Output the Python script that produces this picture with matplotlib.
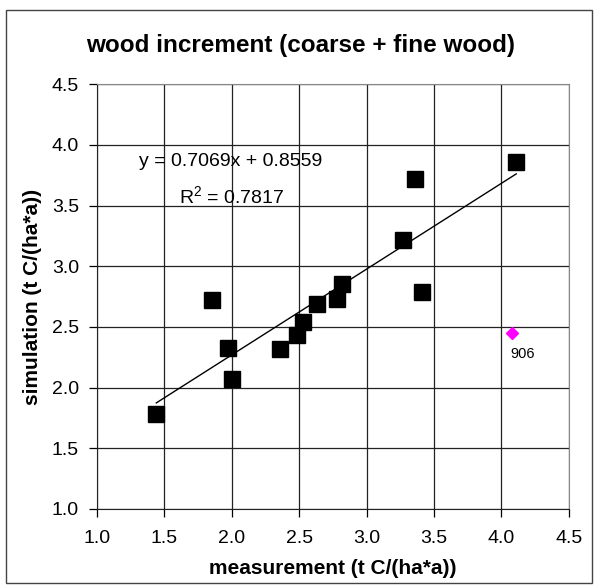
import numpy as np
import matplotlib.pyplot as plt
from matplotlib.patches import Rectangle

plt.rcParams['font.family'] = ['Liberation Sans', 'DejaVu Sans']

# measured vs simulated wood increment
meas = [1.44, 1.85, 1.97, 2.00, 2.36, 2.48, 2.53, 2.63, 2.78, 2.82, 3.27, 3.36, 3.41, 4.11]
sim = [1.78, 2.72, 2.33, 2.07, 2.32, 2.43, 2.54, 2.69, 2.73, 2.85, 3.22, 3.72, 2.79, 3.86]
# excluded site
out_x = [4.08]
out_y = [2.45]
out_label = '906'
slope, intercept, r2 = 0.7069, 0.8559, 0.7817
ticks = [1.0, 1.5, 2.0, 2.5, 3.0, 3.5, 4.0, 4.5]


def main():
    fig = plt.figure(figsize=(5.95, 5.85), dpi=100)
    ax = fig.add_axes([0.163, 0.130, 0.793, 0.726])
    fig.patches.append(Rectangle((0.01, 0.003), 0.985, 0.98, transform=fig.transFigure,
                                 fill=False, edgecolor='#444444', lw=1.0))

    ax.set_xlim(1.0, 4.5)
    ax.set_ylim(1.0, 4.5)
    ax.set_xticks(ticks)
    ax.set_yticks(ticks)
    ax.set_xticklabels(['%.1f' % t for t in ticks])
    ax.set_yticklabels(['%.1f' % t for t in ticks])
    ax.grid(True, color='#222222', lw=0.9)
    ax.set_axisbelow(True)
    for s in ['top', 'right']:
        ax.spines[s].set_color('#888888')
    for s in ['left', 'bottom']:
        ax.spines[s].set_color('#222222')
    ax.tick_params(labelsize=14, length=6, width=0.9)
    ax.tick_params(axis='x', pad=9)
    ax.tick_params(axis='y', pad=7)

    xl = np.array([min(meas), max(meas)])
    ax.plot(xl, slope * xl + intercept, color='black', lw=1.0, zorder=3)
    ax.plot(meas, sim, 's', color='black', ms=11, zorder=4)
    ax.plot(out_x, out_y, 'D', color='#ff00ff', ms=6, zorder=4)
    ax.annotate(out_label, (out_x[0], out_y[0]), xytext=(-1, -18), textcoords='offset points',
                fontsize=10.5)

    ax.text(1.99, 3.86, 'y = %.4fx + %.4f' % (slope, intercept), fontsize=14,
            ha='center', va='center')
    ax.text(2.0, 3.58, '$\\mathregular{R^2}$ = %.4f' % r2, fontsize=14,
            ha='center', va='center')

    fig.text(0.505, 0.923, 'wood increment (coarse + fine wood)', fontsize=17.5,
             fontweight='bold', ha='center', va='center')
    ax.set_xlabel('measurement (t C/(ha*a))', fontsize=15, fontweight='bold', labelpad=9)
    ax.set_ylabel('simulation (t C/(ha*a))', fontsize=15, fontweight='bold', labelpad=7)

    fig.savefig('out.png', dpi=100)


if __name__ == '__main__':
    main()
